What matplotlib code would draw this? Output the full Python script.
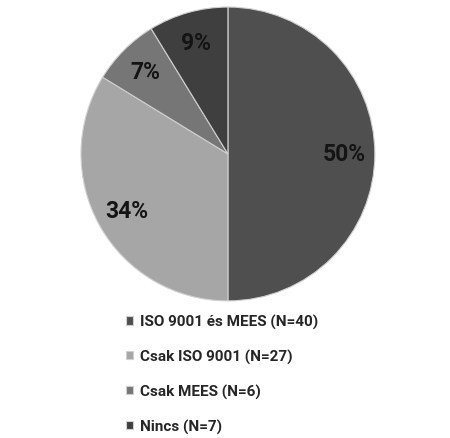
import numpy as np
import matplotlib.pyplot as plt

# data
labels = ['ISO 9001 és MEES (N=40)', 'Csak ISO 9001 (N=27)', 'Csak MEES (N=6)', 'Nincs (N=7)']
counts = [40, 27, 6, 7]
pct_labels = ['50%', '34%', '7%', '9%']
colors = ['#4f4f4f', '#a6a6a6', '#767676', '#3f3f3f']

plt.rcParams['font.family'] = ['Roboto', 'DejaVu Sans']

fig = plt.figure(figsize=(4.5, 4.39), dpi=100)
ax = fig.add_axes([0.18, 0.312, 0.653, 0.670])

wedges, _ = ax.pie(counts, colors=colors, startangle=90, counterclock=False,
                   wedgeprops=dict(edgecolor='#d0d0d0', linewidth=0.8))
ax.set_aspect('equal')
ax.set_xlim(-1, 1)
ax.set_ylim(-1, 1)

# percentage labels at the middle of each wedge
for w, txt in zip(wedges, pct_labels):
    ang = np.deg2rad((w.theta1 + w.theta2) / 2)
    ax.text(0.79 * np.cos(ang), 0.79 * np.sin(ang), txt, ha='center', va='center',
            fontsize=16.5, fontweight='bold', color='#141414')

leg = fig.legend(wedges, labels, loc='upper left', bbox_to_anchor=(0.262, 0.3),
                 frameon=False, handlelength=0.5, handleheight=0.5,
                 handletextpad=0.45, labelspacing=1.3, borderpad=0,
                 prop=dict(size=11, weight='bold'))
for t in leg.get_texts():
    t.set_color('#262626')

fig.savefig('out.png', dpi=100)
